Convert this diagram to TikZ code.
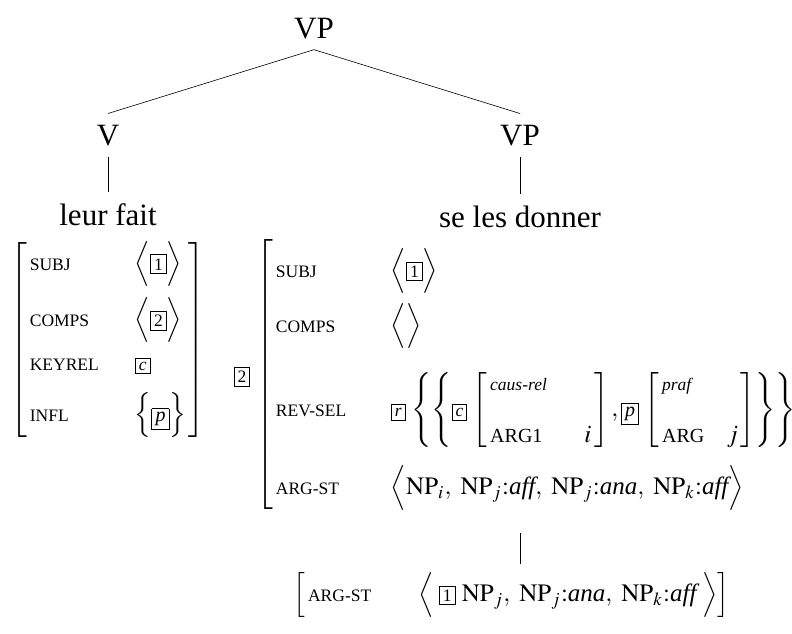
\documentclass[tikz,border=0pt]{standalone}
\usepackage{mathptmx}
\usepackage[no-math]{fontspec}
\setmainfont{Liberation Serif}
\usepackage{amsmath}
\usetikzlibrary{positioning}

\setlength{\fboxsep}{1.2pt}
\setlength{\fboxrule}{0.4pt}
\newcommand{\ntag}[1]{\fbox{\scriptsize #1}}
\newcommand{\ltag}[2][\scriptsize]{\fbox{#1\itshape #2}}
\newcommand{\feat}[1]{\mbox{\scriptsize #1}}
\newcommand{\subfeat}[1]{\mbox{\footnotesize #1}}
\newcommand{\avmtype}[1]{\mbox{\scriptsize\itshape #1}}

\tikzset{
  phrase/.style={font=\fontsize{31}{36}\selectfont, inner sep=11pt},
  avm/.style={scale=2.5, inner sep=0pt},
  branch/.style={line width=0.6pt}
}

\begin{document}
\begin{tikzpicture}[x=1pt,y=-1pt]
  \useasboundingbox (0,0) rectangle (792,634);

  % --- tree ---
  \node[phrase, anchor=base] (vp)  at (314,38)  {VP};
  \node[phrase, anchor=base] (v)   at (108,145) {V};
  \node[phrase, anchor=base] (vp2) at (520,145) {VP};
  \node[phrase, anchor=base] (lf)  at (108,225) {leur fait};
  \node[phrase, anchor=base] (sld) at (520,227) {se les donner};

  \draw[branch] (vp.south) -- (v.north);
  \draw[branch] (vp.south) -- (vp2.north);
  \draw[branch] (v.south) -- (lf.north);
  \draw[branch] (vp2.south) -- (sld.north);

  % --- leur fait ---
  \node[avm, anchor=north] (lavm) at (108,237) {$\left[\begin{array}{@{\,}p{42pt}@{}l@{\,}}
    \rule{0pt}{13pt}\feat{SUBJ} & \Bigl\langle\ntag{1}\Bigr\rangle\\[7.5pt]
    \feat{COMPS}  & \Bigl\langle\ntag{2}\Bigr\rangle\\[5.5pt]
    \feat{KEYREL} & \ltag{c}\\[5.5pt]
    \rule[-8pt]{0pt}{8pt}\feat{INFL} & \Bigl\{\ltag[\footnotesize]{p}\Bigr\}
  \end{array}\right]$};

  % --- se les donner ---
  \node[avm] (tag2) at (242,377) {\ntag{2}};
  \node[avm, anchor=north west] (ravm) at (256,233) {$\left[\begin{array}{@{\,}p{46pt}@{}l@{}}
    \rule{0pt}{17.5pt}\feat{SUBJ} & \Bigl\langle\ntag{1}\Bigr\rangle\\[7pt]
    \feat{COMPS}   & \Bigl\langle\Bigr\rangle\\[11pt]
    \feat{REV-SEL} & \ltag{r}\,\left\{\left\{\ltag{c}\,\left[\begin{array}{@{\,}l@{\hspace{15pt}}l@{\,}}
        \avmtype{caus-rel}\\[9pt]
        \subfeat{ARG1} & i
      \end{array}\right], \ltag[\footnotesize]{p}\,\left[\begin{array}{@{\,}l@{\hspace{9pt}}l@{\,}}
        \avmtype{praf}\\[9pt]
        \subfeat{ARG} & j
      \end{array}\right]\right\}\right\}\\[16pt]
    \rule[-8.5pt]{0pt}{8.5pt}\feat{ARG-ST} & \Bigl\langle \mathrm{NP}_i,\ \mathrm{NP}_j{:}\textit{aff},\ \mathrm{NP}_j{:}\textit{ana},\ \mathrm{NP}_k{:}\textit{aff}\Bigr\rangle
  \end{array}\right]$};

  % --- lower arg-st ---
  \node[avm, anchor=north west] (bavm) at (293,572) {$\left[\,\makebox[44pt][l]{\scriptsize ARG-ST}\Bigl\langle\;\ntag{1}\ \mathrm{NP}_j,\ \mathrm{NP}_j{:}\textit{ana},\ \mathrm{NP}_k{:}\textit{aff}\;\Bigr\rangle\right]$};

  \draw[branch, shorten <=17pt, shorten >=8pt] (vp2 |- ravm.south) -- (vp2 |- bavm.north);

\end{tikzpicture}
\end{document}
